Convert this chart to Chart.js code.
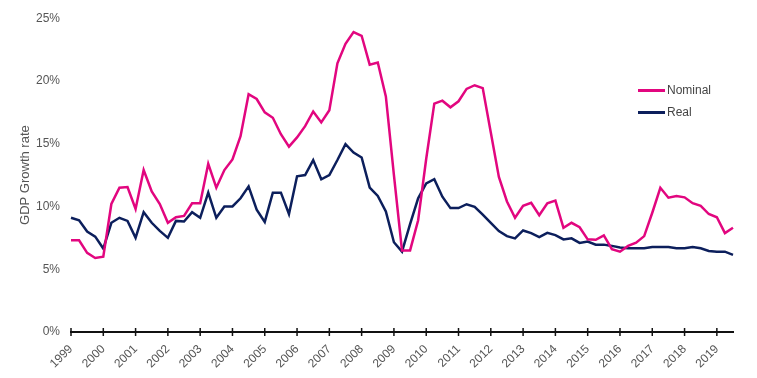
<!DOCTYPE html>
<html>
<head>
<meta charset="utf-8">
<script src="https://cdn.jsdelivr.net/npm/chart.js@4"></script>
<style>
  body { margin: 0; background: #fff; }
  #wrap { position: relative; width: 757px; height: 378px; }
  .legend { position: absolute; left: 638px; font: 12px "Liberation Sans", Arial, sans-serif; color: #444; }
  .legend div { display: flex; align-items: center; height: 22px; }
  .legend span.sw { display: inline-block; width: 27px; height: 3px; margin-right: 2px; }
</style>
</head>
<body>
<div id="wrap">
  <canvas id="chart" width="757" height="378"></canvas>
  <div class="legend" style="top:79px">
    <div><span class="sw" style="background:#e2067f"></span>Nominal</div>
    <div><span class="sw" style="background:#0c1f5c"></span>Real</div>
  </div>
</div>
<script>
const startYear = 1999;
const quarterNames = ['Q1', 'Q2', 'Q3', 'Q4'];

// quarterly growth, 1999 Q1 - 2019 Q3 (%)
const nominal = [
  7.3, 7.3, 6.3, 5.9, 6.0, 10.2, 11.5, 11.55, 9.8, 12.9, 11.2, 10.2,
  8.7, 9.15, 9.25, 10.26, 10.26, 13.4, 11.5, 12.9, 13.75, 15.6, 18.95, 18.56,
  17.5, 17.07, 15.76, 14.77, 15.5, 16.4, 17.57, 16.7, 17.67, 21.4, 22.96, 23.9,
  23.6, 21.3, 21.47, 18.77, 12.5, 6.5, 6.5, 8.9, 13.8, 18.2, 18.43, 17.9,
  18.38, 19.37, 19.66, 19.43, 15.9, 12.36, 10.4, 9.1, 10.05, 10.3, 9.3, 10.26,
  10.47, 8.3, 8.7, 8.35, 7.38, 7.35, 7.7, 6.6, 6.4, 6.86, 7.12, 7.64,
  9.5, 11.49, 10.7, 10.84, 10.73, 10.26, 10.05, 9.4, 9.14, 7.88, 8.3
];
const real = [
  9.1, 8.9, 8.0, 7.6, 6.65, 8.7, 9.1, 8.85, 7.5, 9.55, 8.7, 8.05,
  7.5, 8.85, 8.8, 9.55, 9.1, 11.1, 9.1, 10.0, 10.0, 10.65, 11.6, 9.74,
  8.77, 11.1, 11.1, 9.4, 12.4, 12.5, 13.7, 12.17, 12.5, 13.7, 14.97, 14.3,
  13.9, 11.5, 10.84, 9.6, 7.15, 6.4, 8.6, 10.65, 11.83, 12.17, 10.78, 9.87,
  9.87, 10.18, 9.97, 9.35, 8.69, 8.04, 7.64, 7.46, 8.09, 7.88, 7.56, 7.9,
  7.72, 7.38, 7.46, 7.1, 7.2, 6.96, 6.96, 6.86, 6.73, 6.67, 6.67, 6.67,
  6.78, 6.78, 6.78, 6.67, 6.67, 6.78, 6.67, 6.46, 6.4, 6.4, 6.15
];
const yTicks = [0, 5, 10, 15, 20, 25];

const labels = nominal.map((v, i) => (startYear + Math.floor(i / 4)) + ' ' + quarterNames[i % 4]);
const isYearStart = i => labels[i].endsWith('Q1');

const font = { family: '"Liberation Sans", Arial, sans-serif', size: 12 };

// year tick marks crossing the x axis line
const yearTicks = {
  id: 'yearTicks',
  afterDraw(chart) {
    const xs = chart.scales.x;
    const y0 = chart.scales.y.getPixelForValue(0);
    const c = chart.ctx;
    c.save();
    c.strokeStyle = '#111';
    c.lineWidth = 1.5;
    labels.forEach((l, i) => {
      if (!isYearStart(i)) return;
      const x = xs.getPixelForValue(i);
      c.beginPath();
      c.moveTo(x, y0 - 4);
      c.lineTo(x, y0 + 4);
      c.stroke();
    });
    c.restore();
  }
};

new Chart(document.getElementById('chart'), {
  type: 'line',
  data: {
    labels,
    datasets: [
      { label: 'Nominal', data: nominal, borderColor: '#e2067f', borderWidth: 2.5, pointRadius: 0, tension: 0 },
      { label: 'Real', data: real, borderColor: '#0c1f5c', borderWidth: 2.5, pointRadius: 0, tension: 0 }
    ]
  },
  options: {
    responsive: false,
    animation: false,
    layout: { padding: { top: 15, right: 24, left: 18, bottom: 0 } },
    plugins: { legend: { display: false }, tooltip: { enabled: false } },
    scales: {
      x: {
        grid: { display: false },
        border: { display: true, color: '#111', width: 2 },
        ticks: {
          autoSkip: false,
          minRotation: 45,
          maxRotation: 45,
          color: '#555',
          font,
          padding: 2,
          callback: (v, i) => isYearStart(i) ? labels[i].slice(0, 4) : ''
        },
        afterFit: s => { s.height = 46; }
      },
      y: {
        min: 0,
        max: 25,
        afterBuildTicks: s => { s.ticks = yTicks.map(v => ({ value: v })); },
        grid: { display: false, drawTicks: false },
        border: { display: false },
        ticks: { color: '#555', font, padding: 11, callback: v => v + '%' },
        title: { display: true, text: 'GDP Growth rate', color: '#555', padding: 0, font: { family: font.family, size: 13 } },
        afterFit: s => { s.width = 53; }
      }
    }
  },
  plugins: [yearTicks]
});
</script>
</body>
</html>
